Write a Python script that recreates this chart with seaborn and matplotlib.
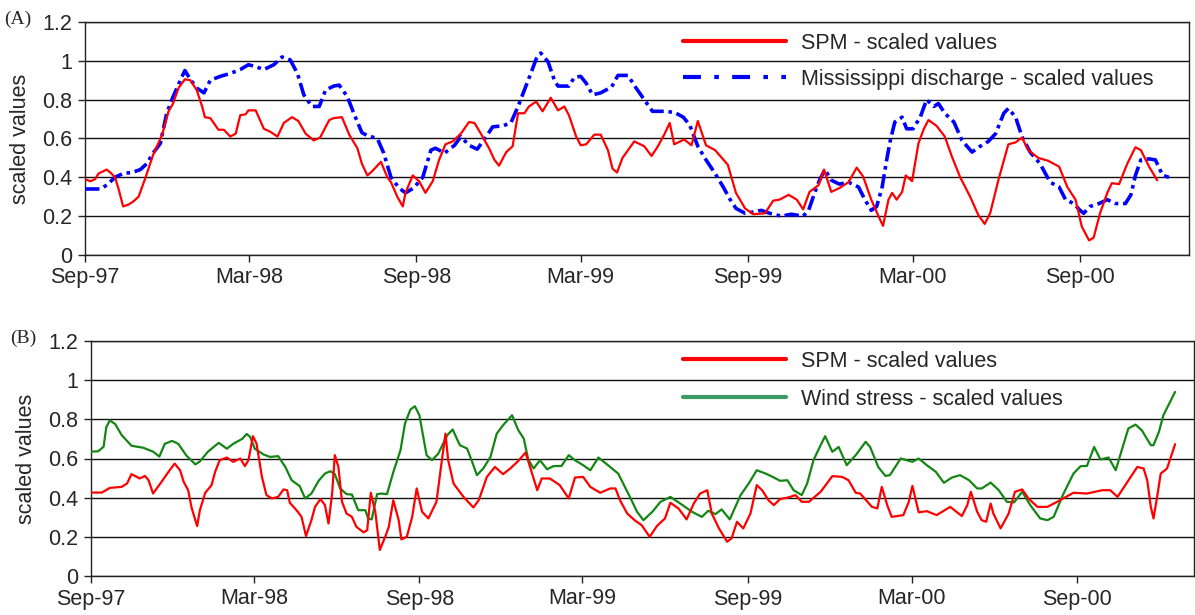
import numpy as np
import pandas as pd
import seaborn as sns
import matplotlib.pyplot as plt
import matplotlib.dates as mdates
from matplotlib.lines import Line2D

# panel A: days since 1 Sep 1997 and scaled values
spm_a_day = [0, 6, 11, 15, 24, 29, 33, 37, 42, 48, 53, 59, 66, 75, 85, 92, 97, 103, 110, 116,
             123, 129, 132, 138, 147, 153, 160, 166, 171, 177, 180, 188, 197, 204, 212, 219, 228,
             235, 243, 252, 259, 269, 274, 283, 291, 300, 305, 311, 316, 326, 333, 337, 344, 350,
             353, 361, 368, 375, 383, 390, 397, 405, 414, 423, 429, 436, 445, 451, 456, 464, 471,
             477, 484, 489, 497, 504, 513, 521, 528, 533, 541, 546, 552, 561, 568, 576, 581, 586,
             592, 605, 616, 624, 631, 638, 644, 649, 660, 668, 675, 684, 694, 708, 717, 727, 736,
             749, 758, 765, 775, 784, 791, 798, 808, 814, 822, 831, 841, 850, 857, 866, 874, 879,
             885, 889, 894, 900, 904, 911, 918, 924, 929, 938, 947, 955, 964, 975, 984, 991, 997,
             1006, 1017, 1025, 1032, 1039, 1050, 1061, 1073, 1082, 1091, 1098, 1106, 1111, 1118,
             1126, 1131, 1139, 1148, 1157, 1163, 1172, 1181]
spm_a_val = [0.39, 0.38, 0.39, 0.42, 0.44, 0.42, 0.40, 0.34, 0.25, 0.26, 0.275, 0.30, 0.39, 0.515,
             0.62, 0.74, 0.78, 0.86, 0.905, 0.90, 0.85, 0.765, 0.71, 0.705, 0.645, 0.645, 0.61,
             0.625, 0.72, 0.725, 0.745, 0.745, 0.65, 0.635, 0.61, 0.68, 0.71, 0.69, 0.625, 0.59,
             0.605, 0.695, 0.705, 0.71, 0.62, 0.55, 0.47, 0.41, 0.43, 0.48, 0.40, 0.375, 0.30, 0.25,
             0.32, 0.41, 0.38, 0.32, 0.38, 0.49, 0.57, 0.585, 0.625, 0.685, 0.68, 0.625, 0.55, 0.49,
             0.46, 0.53, 0.56, 0.73, 0.73, 0.765, 0.79, 0.74, 0.81, 0.745, 0.765, 0.72, 0.61, 0.565,
             0.57, 0.62, 0.62, 0.54, 0.445, 0.425, 0.50, 0.585, 0.56, 0.51, 0.56, 0.62, 0.68, 0.57,
             0.595, 0.565, 0.69, 0.565, 0.54, 0.465, 0.32, 0.24, 0.21, 0.215, 0.28, 0.285, 0.31,
             0.285, 0.235, 0.325, 0.36, 0.44, 0.325, 0.345, 0.375, 0.45, 0.405, 0.285, 0.20, 0.15,
             0.285, 0.32, 0.285, 0.325, 0.41, 0.38, 0.575, 0.65, 0.695, 0.665, 0.61, 0.505, 0.40,
             0.30, 0.205, 0.16, 0.215, 0.385, 0.57, 0.58, 0.605, 0.54, 0.50, 0.485, 0.455, 0.35,
             0.285, 0.145, 0.075, 0.09, 0.215, 0.32, 0.37, 0.365, 0.47, 0.555, 0.54, 0.455, 0.385]

miss_day = [0, 17, 24, 33, 42, 52, 61, 68, 75, 83, 90, 97, 105, 110, 116, 123, 131, 138, 149, 160,
            171, 180, 188, 197, 208, 217, 226, 234, 241, 250, 258, 265, 274, 280, 289, 296, 305,
            311, 322, 329, 337, 346, 353, 362, 372, 381, 386, 396, 407, 414, 423, 432, 442, 449,
            460, 469, 477, 484, 491, 497, 502, 510, 517, 521, 533, 539, 546, 552, 559, 568, 580,
            587, 598, 607, 616, 625, 638, 649, 659, 666, 675, 684, 694, 703, 710, 717, 727, 734,
            745, 754, 767, 778, 791, 797, 804, 809, 815, 822, 831, 841, 852, 859, 866, 872, 878,
            883, 887, 892, 900, 905, 912, 920, 927, 935, 940, 947, 957, 966, 977, 986, 995, 1003,
            1012, 1017, 1025, 1032, 1041, 1052, 1063, 1073, 1080, 1089, 1096, 1100, 1107, 1117,
            1126, 1135, 1146, 1152, 1157, 1163, 1172, 1179, 1187, 1194]
miss_val = [0.34, 0.34, 0.36, 0.40, 0.42, 0.425, 0.44, 0.47, 0.525, 0.575, 0.73, 0.815, 0.90, 0.95,
            0.905, 0.86, 0.835, 0.90, 0.92, 0.935, 0.955, 0.98, 0.97, 0.955, 0.98, 1.02, 1.005,
            0.935, 0.825, 0.765, 0.765, 0.85, 0.87, 0.875, 0.815, 0.73, 0.63, 0.615, 0.60, 0.525,
            0.40, 0.345, 0.32, 0.345, 0.40, 0.54, 0.55, 0.525, 0.565, 0.61, 0.565, 0.545, 0.61,
            0.66, 0.665, 0.68, 0.765, 0.85, 0.935, 1.01, 1.04, 0.995, 0.90, 0.87, 0.87, 0.915, 0.92,
            0.885, 0.825, 0.835, 0.865, 0.925, 0.925, 0.86, 0.80, 0.74, 0.74, 0.735, 0.71, 0.67,
            0.56, 0.49, 0.42, 0.35, 0.29, 0.24, 0.215, 0.22, 0.23, 0.215, 0.20, 0.21, 0.20, 0.23,
            0.325, 0.385, 0.44, 0.385, 0.365, 0.375, 0.35, 0.285, 0.23, 0.25, 0.35, 0.49, 0.59,
            0.685, 0.71, 0.65, 0.65, 0.71, 0.80, 0.765, 0.78, 0.73, 0.685, 0.59, 0.53, 0.56, 0.585,
            0.625, 0.73, 0.755, 0.71, 0.61, 0.53, 0.47, 0.375, 0.35, 0.285, 0.265, 0.23, 0.215,
            0.25, 0.265, 0.285, 0.265, 0.265, 0.31, 0.41, 0.49, 0.495, 0.49, 0.41, 0.40]

# panel B
spm_b_day = [0, 12, 21, 34, 40, 45, 51, 54, 60, 64, 69, 77, 88, 93, 99, 103, 108, 112, 118, 121,
             127, 134, 138, 143, 151, 158, 166, 171, 175, 180, 184, 190, 195, 201, 208, 214, 218,
             221, 229, 234, 239, 245, 249, 255, 260, 264, 268, 271, 275, 279, 284, 290, 295, 303,
             307, 311, 316, 321, 327, 331, 336, 342, 345, 351, 357, 362, 368, 375, 384, 390, 394,
             397, 403, 414, 425, 431, 440, 449, 458, 466, 475, 483, 488, 496, 501, 510, 521, 531,
             538, 547, 555, 566, 577, 583, 588, 596, 605, 612, 621, 629, 638, 644, 653, 662, 670,
             677, 685, 690, 698, 707, 712, 718, 725, 733, 740, 746, 753, 759, 766, 775, 783, 790,
             798, 811, 824, 835, 842, 850, 855, 868, 874, 879, 885, 890, 903, 909, 913, 920, 929,
             940, 955, 968, 974, 978, 985, 990, 995, 1000, 1003, 1011, 1020, 1027, 1035, 1042, 1052,
             1063, 1074, 1092, 1107, 1124, 1133, 1141, 1152, 1163, 1170, 1174, 1178, 1181, 1185,
             1189, 1196, 1205]
spm_b_val = [0.426, 0.426, 0.45, 0.455, 0.472, 0.52, 0.506, 0.498, 0.511, 0.489, 0.421, 0.472,
             0.544, 0.574, 0.54, 0.481, 0.438, 0.345, 0.255, 0.336, 0.425, 0.464, 0.532, 0.591,
             0.605, 0.583, 0.60, 0.561, 0.591, 0.714, 0.676, 0.506, 0.413, 0.396, 0.404, 0.442,
             0.438, 0.374, 0.333, 0.302, 0.204, 0.285, 0.353, 0.393, 0.362, 0.268, 0.421, 0.617,
             0.557, 0.379, 0.319, 0.302, 0.251, 0.223, 0.234, 0.425, 0.328, 0.133, 0.20, 0.251,
             0.387, 0.285, 0.187, 0.20, 0.302, 0.447, 0.328, 0.294, 0.379, 0.591, 0.727, 0.591,
             0.472, 0.404, 0.35, 0.387, 0.506, 0.557, 0.52, 0.549, 0.588, 0.63, 0.557, 0.438, 0.498,
             0.498, 0.464, 0.396, 0.503, 0.506, 0.455, 0.425, 0.447, 0.447, 0.387, 0.319, 0.282,
             0.26, 0.20, 0.255, 0.294, 0.374, 0.345, 0.289, 0.37, 0.421, 0.438, 0.319, 0.243, 0.175,
             0.192, 0.277, 0.243, 0.319, 0.464, 0.438, 0.387, 0.362, 0.393, 0.401, 0.413, 0.379,
             0.379, 0.43, 0.51, 0.506, 0.489, 0.425, 0.421, 0.353, 0.345, 0.455, 0.362, 0.302,
             0.311, 0.379, 0.46, 0.325, 0.331, 0.311, 0.353, 0.306, 0.362, 0.43, 0.328, 0.285,
             0.277, 0.37, 0.319, 0.243, 0.319, 0.43, 0.442, 0.396, 0.353, 0.353, 0.379, 0.425,
             0.421, 0.438, 0.438, 0.404, 0.481, 0.557, 0.549, 0.489, 0.353, 0.294, 0.404, 0.523,
             0.549, 0.673]

wind_day = [0, 8, 14, 17, 21, 27, 34, 45, 58, 69, 76, 82, 90, 97, 106, 116, 121, 130, 142, 151,
            158, 168, 173, 177, 182, 192, 199, 208, 216, 223, 232, 238, 245, 253, 260, 266, 271,
            277, 284, 290, 297, 305, 308, 312, 318, 323, 329, 336, 344, 349, 355, 360, 365, 370,
            373, 379, 386, 396, 402, 410, 418, 423, 429, 436, 444, 451, 458, 468, 475, 481, 486,
            492, 499, 507, 514, 523, 531, 538, 547, 555, 564, 577, 586, 598, 607, 614, 624, 633,
            644, 655, 668, 679, 686, 694, 701, 710, 722, 731, 740, 750, 759, 766, 774, 781, 790,
            796, 803, 811, 816, 824, 831, 840, 850, 861, 866, 875, 883, 888, 900, 913, 920, 929,
            939, 948, 957, 966, 976, 985, 990, 1000, 1009, 1018, 1026, 1035, 1044, 1055, 1063,
            1070, 1081, 1092, 1100, 1107, 1115, 1122, 1131, 1139, 1144, 1153, 1161, 1168, 1178,
            1181, 1187, 1192, 1205]
wind_val = [0.635, 0.637, 0.66, 0.76, 0.795, 0.775, 0.72, 0.665, 0.655, 0.635, 0.61, 0.675, 0.69,
            0.675, 0.615, 0.57, 0.585, 0.635, 0.68, 0.65, 0.675, 0.70, 0.725, 0.71, 0.65, 0.62,
            0.608, 0.612, 0.557, 0.489, 0.459, 0.396, 0.421, 0.486, 0.523, 0.535, 0.52, 0.447,
            0.418, 0.416, 0.336, 0.336, 0.294, 0.289, 0.418, 0.421, 0.418, 0.53, 0.642, 0.778,
            0.85, 0.867, 0.821, 0.693, 0.617, 0.591, 0.625, 0.719, 0.748, 0.668, 0.651, 0.591,
            0.515, 0.549, 0.608, 0.727, 0.77, 0.821, 0.744, 0.702, 0.595, 0.549, 0.591, 0.545,
            0.561, 0.562, 0.617, 0.591, 0.566, 0.54, 0.605, 0.557, 0.523, 0.413, 0.328, 0.285,
            0.328, 0.379, 0.404, 0.37, 0.328, 0.302, 0.333, 0.316, 0.34, 0.289, 0.413, 0.472, 0.54,
            0.523, 0.503, 0.486, 0.489, 0.438, 0.413, 0.472, 0.591, 0.668, 0.714, 0.634, 0.659,
            0.566, 0.617, 0.685, 0.659, 0.557, 0.511, 0.515, 0.60, 0.583, 0.60, 0.566, 0.532,
            0.476, 0.503, 0.515, 0.489, 0.447, 0.447, 0.477, 0.438, 0.379, 0.376, 0.43, 0.362,
            0.294, 0.285, 0.302, 0.421, 0.523, 0.561, 0.562, 0.659, 0.595, 0.605, 0.54, 0.617,
            0.753, 0.773, 0.744, 0.668, 0.668, 0.736, 0.821, 0.94]

start = pd.Timestamp('1997-09-01')
tick_dates = pd.to_datetime(['1997-09-01', '1998-03-01', '1998-09-01', '1999-03-01',
                             '1999-09-01', '2000-03-01', '2000-09-01'])


def to_frame(days, vals):
    return pd.DataFrame({'date': start + pd.to_timedelta(days, unit='D'), 'value': vals})


sns.set_style('white')
plt.rcParams['font.family'] = ['Liberation Sans', 'DejaVu Sans']
fs = 15.5

fig = plt.figure(figsize=(11.95, 6.15), dpi=100)
ax_a = fig.add_axes([85 / 1195, 1 - 255 / 615, 1104 / 1195, 233 / 615])
ax_b = fig.add_axes([91 / 1195, 1 - 576 / 615, 1103 / 1195, 235 / 615])

sns.lineplot(data=to_frame(spm_a_day, spm_a_val), x='date', y='value', ax=ax_a,
             color='#ff0000', lw=1.6, estimator=None, zorder=4)
sns.lineplot(data=to_frame(miss_day, miss_val), x='date', y='value', ax=ax_a,
             color='#0000ff', lw=2.6, estimator=None, zorder=3)
ax_a.lines[-1].set_dashes((4, 1.3, 1.0, 1.3))

sns.lineplot(data=to_frame(spm_b_day, spm_b_val), x='date', y='value', ax=ax_b,
             color='#ff0000', lw=1.6, estimator=None, zorder=4)
sns.lineplot(data=to_frame(wind_day, wind_val), x='date', y='value', ax=ax_b,
             color='#138613', lw=1.6, estimator=None, zorder=3)

ends = {ax_a: 1216, ax_b: 1226}
for ax, lab in [(ax_a, '(A)'), (ax_b, '(B)')]:
    ax.set_xlim(start, start + pd.Timedelta(days=ends[ax]))
    ax.set_ylim(0, 1.2)
    ax.set_yticks([0, 0.2, 0.4, 0.6, 0.8, 1.0, 1.2])
    ax.set_yticklabels(['0', '0.2', '0.4', '0.6', '0.8', '1', '1.2'])
    ax.set_xticks(tick_dates)
    ax.xaxis.set_major_formatter(mdates.DateFormatter('%b-%y'))
    ax.grid(axis='y', color='#111111', lw=1.0)
    ax.set_axisbelow(True)
    for s in ax.spines.values():
        s.set_color('#222222')
        s.set_linewidth(1.0)
    ax.tick_params(axis='both', direction='out', length=5, width=1, color='#222222',
                   labelsize=fs, pad=4, left=True, bottom=True)
    ax.set_xlabel('')
    ax.set_ylabel('scaled values', fontsize=fs, labelpad=8)
    ax.text(-0.073, 1.01, lab, transform=ax.transAxes, family='Liberation Serif',
            fontsize=14, ha='left', va='center')

leg_a = [Line2D([], [], color='#ff0000', lw=3),
         Line2D([], [], color='#0000ff', lw=3, dashes=(4.3, 3.2, 1.1, 3.2))]
leg_b = [Line2D([], [], color='#ff0000', lw=3),
         Line2D([], [], color='#3a9a62', lw=3)]
ax_a.legend(leg_a, ['SPM - scaled values', 'Mississippi discharge - scaled values'],
            loc='upper left', bbox_to_anchor=(0.524, 1.037), frameon=False, fontsize=fs,
            handlelength=4.8, handletextpad=0.7, labelspacing=0.7)
ax_b.legend(leg_b, ['SPM - scaled values', 'Wind stress - scaled values'],
            loc='upper left', bbox_to_anchor=(0.519, 1.041), frameon=False, fontsize=fs,
            handlelength=4.8, handletextpad=0.7, labelspacing=0.8)

fig.savefig('out.png', dpi=100)
